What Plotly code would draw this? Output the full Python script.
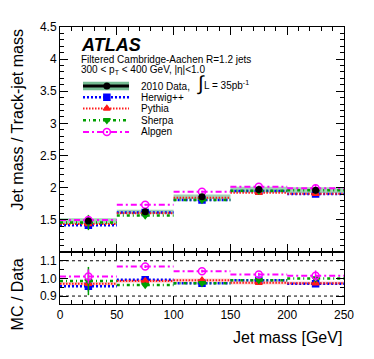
import numpy as np
import plotly.graph_objects as go

# jet mass bins [GeV]
bin_edges = [0, 50, 100, 150, 200, 250]
bin_centers = [25, 75, 125, 175, 225]

# 2010 data: jet mass / track-jet mass
data_val = [1.48, 1.625, 1.86, 1.97, 1.96]
data_stat = [0.02, 0.012, 0.012, 0.012, 0.015]
data_sys = [0.045, 0.03, 0.035, 0.045, 0.045]

# MC / Data ratios
herwig_ratio = [0.956, 0.993, 0.972, 0.989, 0.970]
pythia_ratio = [0.970, 0.985, 0.990, 0.976, 0.972]
sherpa_ratio = [0.985, 0.963, 0.972, 0.990, 1.000]
alpgen_ratio = [1.011, 1.067, 1.041, 1.022, 1.015]

herwig_err = [0.03, 0.008, 0.008, 0.008, 0.01]
pythia_err = [0.02, 0.008, 0.008, 0.008, 0.01]
sherpa_err = [0.08, 0.015, 0.012, 0.01, 0.015]
alpgen_err = [0.04, 0.008, 0.008, 0.01, 0.03]

FONT = "Liberation Sans"

samples = [
    # name, ratio, err, color, dash, width, symbol, size
    ("Herwig++", herwig_ratio, herwig_err, "#0000ff", "2px,2px", 2.5, "square", 6),
    ("Pythia", pythia_ratio, pythia_err, "#ff1a1a", "1.5px,1.5px", 2, "triangle-up", 6),
    ("Sherpa", sherpa_ratio, sherpa_err, "#00a000", "3px,3px,1px,3px", 2.5, "triangle-down", 6),
    ("Alpgen", alpgen_ratio, alpgen_err, "#ff00ff", "6px,3px,2px,3px", 2, "circle-open", 7),
]


def segments(vals):
    xs, ys = [], []
    for i, v in enumerate(vals):
        xs += [bin_edges[i], bin_edges[i + 1], None]
        ys += [v, v, None]
    return xs, ys


def bands(vals, errs):
    xs, ys = [], []
    for i, (v, e) in enumerate(zip(vals, errs)):
        lo, hi = bin_edges[i], bin_edges[i + 1]
        xs += [lo, hi, hi, lo, lo, None]
        ys += [v - e, v - e, v + e, v + e, v - e, None]
    return xs, ys


fig = go.Figure()

# data systematic band
bx, by = bands(data_val, data_sys)
fig.add_trace(go.Scatter(x=bx, y=by, mode="lines", fill="toself",
                         fillcolor="rgba(70,165,110,0.5)", line=dict(width=0),
                         xaxis="x", yaxis="y", hoverinfo="skip"))

# Pythia band in ratio panel
px_, py_ = bands(pythia_ratio, [0.01] * 5)
fig.add_trace(go.Scatter(x=px_, y=py_, mode="lines", fill="toself",
                         fillcolor="rgba(255,120,120,0.35)", line=dict(width=0),
                         xaxis="x2", yaxis="y2", hoverinfo="skip"))

for name, ratio, err, color, dash, width, sym, size in samples:
    mc = [d * r for d, r in zip(data_val, ratio)]
    mc_err = [d * e for d, e in zip(data_val, err)]
    for vals, errs, xa, ya in [(mc, mc_err, "x", "y"), (ratio, err, "x2", "y2")]:
        sx, sy = segments(vals)
        fig.add_trace(go.Scatter(x=sx, y=sy, mode="lines",
                                 line=dict(color=color, width=width, dash=dash),
                                 xaxis=xa, yaxis=ya, hoverinfo="skip"))
        fig.add_trace(go.Scatter(x=bin_centers, y=vals, mode="markers",
                                 marker=dict(symbol=sym, size=size, color=color,
                                             line=dict(color=color, width=1.5)),
                                 error_y=dict(array=errs, color=color, thickness=1.5, width=0),
                                 xaxis=xa, yaxis=ya))

# data points
fig.add_trace(go.Scatter(x=bin_centers, y=data_val, mode="markers",
                         marker=dict(symbol="circle", size=7, color="black"),
                         error_y=dict(array=data_stat, color="black", thickness=1.5, width=0),
                         xaxis="x", yaxis="y"))

split = 0.188

# legend glyphs (overlay axis whose units equal paper units)
leg_rows = [0.787, 0.746, 0.706, 0.663, 0.621]
leg_x0, leg_x1, leg_xm = 0.081, 0.243, 0.165
fig.add_shape(type="rect", xref="paper", yref="paper", x0=leg_x0, x1=leg_x1,
              y0=leg_rows[0] - 0.015, y1=leg_rows[0] + 0.015,
              fillcolor="rgba(70,165,110,0.75)", line=dict(width=0), layer="below")
fig.add_trace(go.Scatter(x=[leg_x0, leg_x1], y=[leg_rows[0]] * 2, mode="lines",
                         line=dict(color="black", width=3), xaxis="x3", yaxis="y3"))
fig.add_trace(go.Scatter(x=[leg_xm], y=[leg_rows[0]], mode="markers",
                         marker=dict(symbol="circle", size=7, color="black"),
                         xaxis="x3", yaxis="y3"))
for (name, ratio, err, color, dash, width, sym, size), yr in zip(samples, leg_rows[1:]):
    fig.add_trace(go.Scatter(x=[leg_x0, leg_x1], y=[yr, yr], mode="lines",
                             line=dict(color=color, width=width, dash=dash),
                             xaxis="x3", yaxis="y3"))
    fig.add_trace(go.Scatter(x=[leg_xm], y=[yr], mode="markers",
                             marker=dict(symbol=sym, size=size, color=color,
                                         line=dict(color=color, width=1.5)),
                             xaxis="x3", yaxis="y3"))

leg_labels = ["2010 Data,", "Herwig++", "Pythia", "Sherpa", "Alpgen"]
ann = []
for lab, yr in zip(leg_labels, leg_rows):
    ann.append(dict(text=lab, x=0.278, y=yr, xref="paper", yref="paper",
                    xanchor="left", yanchor="middle", showarrow=False,
                    font=dict(size=10, color="black")))
ann += [
    dict(text="<b><i>ATLAS</i></b>", x=0.066, y=0.936, font=dict(size=18)),
    dict(text="Filtered Cambridge-Aachen R=1.2 jets", x=0.066, y=0.883, font=dict(size=10)),
    dict(text="300 < p<sub>T</sub> < 400 GeV, |η|<1.0", x=0.066, y=0.844, font=dict(size=10)),
    dict(text="∫", x=0.474, y=0.797, font=dict(size=20)),
    dict(text="L = 35pb<sup>-1</sup>", x=0.5, y=0.791, font=dict(size=10)),
]
for a in ann[5:]:
    a.update(xref="paper", yref="paper", xanchor="left", yanchor="middle", showarrow=False)
ann += [
    dict(text="Jet mass / Track-jet mass", x=-0.151, y=0.663, xref="paper", yref="paper",
         textangle=-90, showarrow=False, font=dict(size=16), xanchor="center", yanchor="middle"),
    dict(text="MC / Data", x=-0.151, y=0.035, xref="paper", yref="paper",
         textangle=-90, showarrow=False, font=dict(size=16), xanchor="center", yanchor="middle"),
    dict(text="Jet mass [GeV]", x=1.0, y=-0.12, xref="paper", yref="paper",
         showarrow=False, font=dict(size=16), xanchor="right", yanchor="middle"),
]

# dotted reference lines in ratio panel
for yv in [0.9, 1.1]:
    fig.add_shape(type="line", xref="x2", yref="y2", x0=0, x1=250, y0=yv, y1=yv,
                  line=dict(color="black", width=1, dash="dot"))

axis_common = dict(showline=True, linecolor="black", linewidth=1, mirror="ticks",
                   ticks="inside", tickcolor="black", ticklen=8, showgrid=False,
                   zeroline=False, tickfont=dict(size=12, color="black"))
# page body has an 8px margin, so the figure is a little smaller than the window
fig.update_layout(
    width=366, height=351,
    margin=dict(l=52, r=30, t=14, b=55),
    paper_bgcolor="white", plot_bgcolor="white",
    showlegend=False,
    font=dict(family=FONT, color="black"),
    annotations=ann,
    xaxis=dict(domain=[0, 1], range=[0, 250], anchor="y", showticklabels=False,
               dtick=50, minor=dict(dtick=10, ticks="inside", ticklen=4, tickcolor="black"),
               **axis_common),
    yaxis=dict(domain=[split, 1], range=[1.0, 4.5], anchor="x",
               tickvals=[1.5, 2, 2.5, 3, 3.5, 4, 4.5],
               ticktext=["1.5", "2", "2.5", "3", "3.5", "4", "4.5"],
               minor=dict(dtick=0.1, ticks="inside", ticklen=4, tickcolor="black"),
               **axis_common),
    xaxis2=dict(domain=[0, 1], range=[0, 250], anchor="y2", dtick=50,
                minor=dict(dtick=10, ticks="inside", ticklen=4, tickcolor="black"),
                **axis_common),
    yaxis2=dict(domain=[0, split], range=[0.855, 1.15], anchor="x2",
                tickvals=[0.9, 1.0, 1.1], ticktext=["0.9", "1.0", "1.1"],
                minor=dict(dtick=0.05, ticks="inside", ticklen=4, tickcolor="black"),
                **axis_common),
    xaxis3=dict(range=[0, 1], overlaying="x", anchor="y3", visible=False),
    yaxis3=dict(range=[split, 1], overlaying="y", anchor="x3", visible=False),
)

fig.write_html("out.html")
